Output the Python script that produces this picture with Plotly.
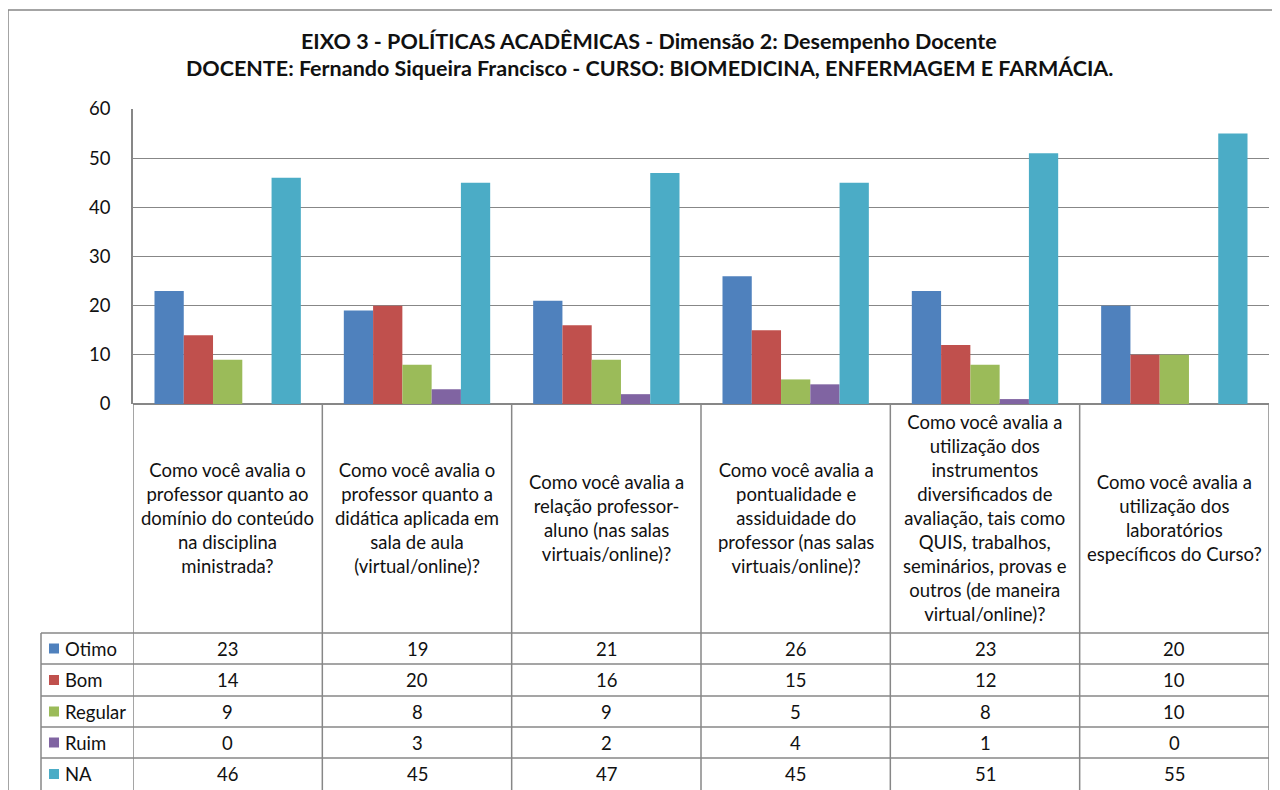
import plotly.graph_objects as go

questions = [
    "Como você avalia o<br>professor quanto ao<br>domínio do conteúdo<br>na disciplina<br>ministrada?",
    "Como você avalia o<br>professor quanto a<br>didática aplicada em<br>sala de aula<br>(virtual/online)?",
    "Como você avalia a<br>relação professor-<br>aluno (nas salas<br>virtuais/online)?",
    "Como você avalia a<br>pontualidade e<br>assiduidade do<br>professor (nas salas<br>virtuais/online)?",
    "Como você avalia a<br>utilização dos<br>instrumentos<br>diversificados de<br>avaliação, tais como<br>QUIS, trabalhos,<br>seminários, provas e<br>outros (de maneira<br>virtual/online)?",
    "Como você avalia a<br>utilização dos<br>laboratórios<br>específicos do Curso?",
]
series_names = ["Otimo", "Bom", "Regular", "Ruim", "NA"]
otimo = [23, 19, 21, 26, 23, 20]
bom = [14, 20, 16, 15, 12, 10]
regular = [9, 8, 9, 5, 8, 10]
ruim = [0, 3, 2, 4, 1, 0]
na = [46, 45, 47, 45, 51, 55]
colors = ["#4F81BD", "#C0504D", "#9BBB59", "#8064A2", "#4BACC6"]
y_ticks = [0, 10, 20, 30, 40, 50, 60]

title_1 = "EIXO 3 - POLÍTICAS ACADÊMICAS - Dimensão 2: Desempenho Docente"
title_2 = "DOCENTE: Fernando Siqueira Francisco - CURSO: BIOMEDICINA, ENFERMAGEM E FARMÁCIA."

FONT = "Lato"
FS = 18.5
TXT = "#111111"
LINE = "#878787"

# the page body adds an 8px margin, so the figure starts at (8, 8)
OFF = 8
FIG_W, FIG_H = 1280, 790
# plot area in page pixels
L, R, T, B = 133, 1269, 109, 404
W, H = R - L, B - T


def px(x):
    return (x - L) / W


def py(y):
    return (B - y) / H


values = [otimo, bom, regular, ruim, na]
x_idx = list(range(len(questions)))

data = []
for name, vals, col in zip(series_names, values, colors):
    data.append(go.Bar(name=name, x=x_idx, y=vals, marker=dict(color=col, line=dict(width=0))))

fig = go.Figure(data=data)

shapes = []
annotations = []

# outer chart border
shapes.append(dict(type="rect", xref="paper", yref="paper",
                   x0=px(8), x1=px(1320), y0=py(10), y1=py(840),
                   line=dict(color=LINE, width=1.5)))

# table: vertical column lines
row_tops = [633, 664, 696, 727, 758, 790]
n = len(questions)
for i in range(n + 1):
    shapes.append(dict(type="line", xref="x", yref="paper",
                       x0=i - 0.5, x1=i - 0.5, y0=py(404), y1=py(820),
                       line=dict(color=LINE, width=1.5)))
# legend column left edge
shapes.append(dict(type="line", xref="paper", yref="paper",
                   x0=px(41), x1=px(41), y0=py(633), y1=py(820),
                   line=dict(color=LINE, width=1.5)))
# horizontal row lines
for yy in row_tops[:-1]:
    shapes.append(dict(type="line", xref="paper", yref="paper",
                       x0=px(41), x1=px(R), y0=py(yy), y1=py(yy),
                       line=dict(color=LINE, width=1.5)))

# category label cells
for i, q in enumerate(questions):
    annotations.append(dict(x=i, xref="x", y=py(518), yref="paper", text=q,
                            showarrow=False, align="center",
                            xanchor="center", yanchor="middle",
                            font=dict(family=FONT, size=FS, color=TXT)))

# data rows with legend keys
for r, (name, vals, col) in enumerate(zip(series_names, values, colors)):
    yc = (row_tops[r] + row_tops[r + 1]) / 2
    shapes.append(dict(type="rect", xref="paper", yref="paper",
                       x0=px(49), x1=px(59), y0=py(yc - 5), y1=py(yc + 5),
                       fillcolor=col, line=dict(width=0)))
    annotations.append(dict(x=px(63), xref="paper", y=py(yc), yref="paper",
                            text=name, showarrow=False,
                            xanchor="left", yanchor="middle",
                            font=dict(family=FONT, size=FS, color=TXT)))
    for i, v in enumerate(vals):
        annotations.append(dict(x=i, xref="x", y=py(yc), yref="paper",
                                text=str(v), showarrow=False,
                                xanchor="center", yanchor="middle",
                                font=dict(family=FONT, size=FS, color=TXT)))

# title
for text, yy in [(title_1, 41), (title_2, 68)]:
    annotations.append(dict(x=px(649), xref="paper", y=py(yy), yref="paper",
                            text="<b>" + text + "</b>", showarrow=False,
                            xanchor="center", yanchor="middle",
                            font=dict(family=FONT, size=21.5, color=TXT)))

fig.update_layout(
    width=FIG_W, height=FIG_H,
    margin=dict(l=L - OFF, r=FIG_W + OFF - R, t=T - OFF, b=FIG_H + OFF - B, pad=0),
    paper_bgcolor="white", plot_bgcolor="white",
    barmode="group", bargap=0.227, bargroupgap=0,
    showlegend=False,
    shapes=shapes, annotations=annotations,
    font=dict(family=FONT, size=FS, color=TXT),
)
fig.update_xaxes(range=[-0.5, n - 0.5], showticklabels=False, showgrid=False,
                 showline=False, zeroline=False, ticks="")
fig.update_yaxes(range=[0, 60], tickvals=y_ticks, showgrid=True, gridcolor=LINE,
                 gridwidth=1, zeroline=True, zerolinecolor=LINE, zerolinewidth=1.5,
                 showline=True, linecolor=LINE, linewidth=1.5, ticks="", ticklen=0,
                 ticklabelstandoff=17, tickfont=dict(family=FONT, size=FS, color=TXT))

fig.write_html("out.html")
